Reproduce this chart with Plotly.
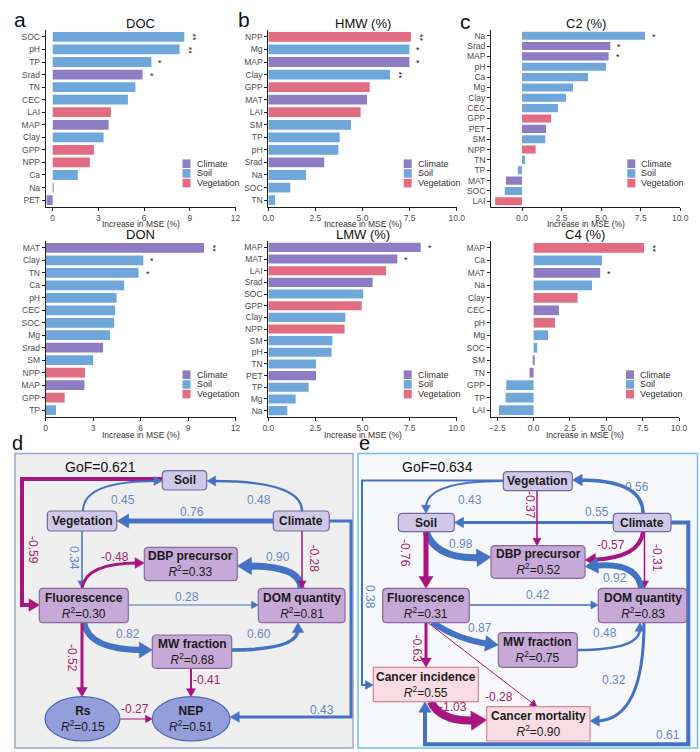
import math
import plotly.graph_objects as go

W, H = 700, 752
FONT = "Liberation Sans, Arial, sans-serif"

# ------------------------------------------------------------------ data
doc_vars = ["SOC", "pH", "TP", "Srad", "TN", "CEC", "LAI", "MAP", "Clay", "GPP", "NPP", "Ca", "Na", "PET"]
doc_vals = [8.64, 8.33, 6.48, 5.90, 5.43, 4.94, 3.82, 3.67, 3.34, 2.70, 2.44, 1.65, 0.05, -0.40]
doc_grp = ["Soil", "Soil", "Soil", "Climate", "Soil", "Soil", "Vegetation", "Climate", "Soil",
           "Vegetation", "Vegetation", "Soil", "Climate", "Climate"]
doc_sig = ["**", "**", "*", "*", "", "", "", "", "", "", "", "", "", ""]

hmw_vars = ["NPP", "Mg", "MAP", "Clay", "GPP", "MAT", "LAI", "SM", "TP", "pH", "Srad", "Na", "SOC", "TN"]
hmw_vals = [7.57, 7.49, 7.49, 6.46, 5.38, 5.24, 4.90, 4.39, 3.79, 3.72, 2.97, 2.00, 1.17, 0.36]
hmw_grp = ["Vegetation", "Soil", "Climate", "Soil", "Vegetation", "Climate", "Vegetation", "Soil",
           "Soil", "Soil", "Climate", "Soil", "Soil", "Soil"]
hmw_sig = ["**", "*", "*", "**", "", "", "", "", "", "", "", "", "", ""]

c2_vars = ["Na", "Srad", "MAP", "pH", "Ca", "Mg", "Clay", "CEC", "GPP", "PET", "SM", "NPP", "TN", "TP",
           "MAT", "SOC", "LAI"]
c2_vals = [7.77, 5.58, 5.47, 5.30, 4.17, 3.22, 2.78, 2.27, 1.83, 1.52, 1.47, 0.86, 0.19, -0.27,
           -1.01, -1.09, -1.70]
c2_grp = ["Soil", "Climate", "Climate", "Soil", "Soil", "Soil", "Soil", "Soil", "Vegetation", "Climate",
          "Soil", "Vegetation", "Soil", "Soil", "Climate", "Soil", "Vegetation"]
c2_sig = ["*", "*", "*", "", "", "", "", "", "", "", "", "", "", "", "", "", ""]

don_vars = ["MAT", "Clay", "TN", "Ca", "pH", "CEC", "SOC", "Mg", "Srad", "SM", "NPP", "MAP", "GPP", "TP"]
don_vals = [10.01, 6.17, 5.87, 4.96, 4.48, 4.39, 4.33, 4.07, 3.63, 3.00, 2.49, 2.45, 1.20, 0.65]
don_grp = ["Climate", "Soil", "Soil", "Soil", "Soil", "Soil", "Soil", "Soil", "Climate", "Soil",
           "Vegetation", "Climate", "Vegetation", "Soil"]
don_sig = ["**", "*", "*", "", "", "", "", "", "", "", "", "", "", ""]

lmw_vars = ["MAP", "MAT", "LAI", "Srad", "SOC", "GPP", "Clay", "NPP", "SM", "pH", "TN", "PET", "TP", "Mg", "Na"]
lmw_vals = [8.09, 6.85, 6.25, 5.54, 5.04, 4.96, 4.09, 4.05, 3.40, 3.36, 2.53, 2.53, 2.14, 1.45, 1.01]
lmw_grp = ["Climate", "Climate", "Vegetation", "Climate", "Soil", "Vegetation", "Soil", "Vegetation",
           "Soil", "Soil", "Soil", "Climate", "Soil", "Soil", "Soil"]
lmw_sig = ["*", "*", "", "", "", "", "", "", "", "", "", "", "", "", ""]

c4_vars = ["MAP", "Ca", "MAT", "Na", "Clay", "CEC", "pH", "Mg", "SOC", "SM", "TN", "GPP", "TP", "LAI"]
c4_vals = [7.59, 4.70, 4.58, 4.02, 3.02, 1.74, 1.47, 0.99, 0.25, 0.03, -0.28, -1.88, -1.93, -2.39]
c4_grp = ["Vegetation", "Soil", "Climate", "Soil", "Vegetation", "Climate", "Vegetation", "Soil",
          "Soil", "Climate", "Climate", "Soil", "Soil", "Soil"]
c4_sig = ["**", "", "*", "", "", "", "", "", "", "", "", "", "", ""]

panel_titles = ["DOC", "HMW (%)", "C2 (%)", "DON", "LMW (%)", "C4 (%)"]
panel_letters = ["a", "b", "c"]
legend_groups = ["Climate", "Soil", "Vegetation"]
x_title = "Increase in MSE (%)"

# path models
d_nodes = ["Soil", "Vegetation", "Climate", "DBP precursor", "Fluorescence", "DOM quantity",
           "MW fraction", "Rs", "NEP"]
d_r2 = [None, None, None, 0.33, 0.30, 0.81, 0.68, 0.15, 0.51]
d_from = ["Soil", "Vegetation", "Climate", "Climate", "Vegetation", "Fluorescence", "DOM quantity",
          "Climate", "Fluorescence", "Fluorescence", "MW fraction", "Fluorescence", "MW fraction", "Rs", "Climate"]
d_to = ["Fluorescence", "Soil", "Soil", "Vegetation", "Fluorescence", "DBP precursor", "DBP precursor",
        "DOM quantity", "DOM quantity", "MW fraction", "DOM quantity", "Rs", "NEP", "NEP", "NEP"]
d_coef = [-0.59, 0.45, 0.48, 0.76, 0.34, -0.48, 0.90, -0.28, 0.28, 0.82, 0.60, -0.52, -0.41, -0.27, 0.43]
d_gof = 0.621

e_nodes = ["Vegetation", "Soil", "Climate", "DBP precursor", "Fluorescence", "DOM quantity",
           "MW fraction", "Cancer incidence", "Cancer mortality"]
e_r2 = [None, None, None, 0.52, 0.31, 0.83, 0.75, 0.55, 0.90]
e_from = ["Vegetation", "Climate", "Climate", "Vegetation", "Vegetation", "Soil", "Soil", "Climate", "Climate",
          "DOM quantity", "Fluorescence", "Fluorescence", "MW fraction", "Fluorescence", "Fluorescence",
          "Cancer incidence", "DOM quantity", "Climate"]
e_to = ["Soil", "Vegetation", "Soil", "DBP precursor", "Cancer incidence", "DBP precursor", "Fluorescence",
        "DBP precursor", "DOM quantity", "DBP precursor", "DOM quantity", "MW fraction", "DOM quantity",
        "Cancer incidence", "Cancer mortality", "Cancer mortality", "Cancer mortality", "Cancer incidence"]
e_coef = [0.43, 0.56, 0.55, -0.37, 0.38, 0.98, -0.76, -0.57, -0.31, 0.92, 0.42, 0.87, 0.48, -0.63,
          -0.28, -1.03, 0.32, 0.61]
e_gof = 0.634

# ------------------------------------------------------------------ styles
GROUP_COL = {"Climate": "#8F7DC4", "Soil": "#70A7DB", "Vegetation": "#E26D82"}
TXT = "#4D4D4D"
BLUE = "#4472C4"
MAG = "#A8157F"
BLUE_T = "#6688C8"
MAG_T = "#A3236F"


def pxx(x):
    return x / W


def pxy(y):
    return 1 - y / H


def pt(x, y):
    return f"{x / W:.5f},{1 - y / H:.5f}"


def label(x, y, text, size, color, xanchor="center", angle=0):
    return dict(x=pxx(x), y=pxy(y), xref="paper", yref="paper", text=text, showarrow=False,
                xanchor=xanchor, yanchor="middle", textangle=angle,
                font=dict(size=size, color=color, family=FONT))


bar_panels = [
    (doc_vars, doc_vals, doc_grp, doc_sig),
    (hmw_vars, hmw_vals, hmw_grp, hmw_sig),
    (c2_vars, c2_vals, c2_grp, c2_sig),
    (don_vars, don_vals, don_grp, don_sig),
    (lmw_vars, lmw_vals, lmw_grp, lmw_sig),
    (c4_vars, c4_vals, c4_grp, c4_sig),
]
panel_geom = [
    dict(xd=(45.7, 235.5), yd=(30, 207), xr=(-0.46, 12), tv=[0, 3, 6, 9, 12], tf=".0f"),
    dict(xd=(268.3, 456.7), yd=(30, 207), xr=(0, 10), tv=[0, 2.5, 5, 7.5, 10], tf=".1f"),
    dict(xd=(491.0, 680.3), yd=(30, 207), xr=(-1.96, 10), tv=[0, 2.5, 5, 7.5, 10], tf=".1f"),
    dict(xd=(45.7, 235.5), yd=(241, 417), xr=(0, 12), tv=[0, 3, 6, 9, 12], tf=".0f"),
    dict(xd=(268.3, 456.7), yd=(241, 417), xr=(0, 10), tv=[0, 2.5, 5, 7.5, 10], tf=".1f"),
    dict(xd=(490.7, 679.0), yd=(241, 417), xr=(-2.95, 10), tv=[-2.5, 0, 2.5, 5, 7.5, 10], tf=".1f"),
]

fig = go.Figure()
shapes = []
ann = []
layout = dict(
    width=W, height=H, margin=dict(l=0, r=0, t=0, b=0, autoexpand=False),
    paper_bgcolor="white", plot_bgcolor="white", showlegend=False,
    font=dict(family=FONT, color=TXT),
)

for i, ((vars_, vals, grp, sig), g) in enumerate(zip(bar_panels, panel_geom)):
    k = "" if i == 0 else str(i + 1)
    xa, ya = "x" + k, "y" + k
    n = len(vars_)
    fig.add_trace(go.Bar(
        x=vals, y=vars_, orientation="h", xaxis=xa, yaxis=ya,
        marker=dict(color=[GROUP_COL[c] for c in grp], line=dict(width=0)),
        width=0.78, hoverinfo="x+y",
    ))
    layout["xaxis" + k] = dict(
        domain=[pxx(g["xd"][0]), pxx(g["xd"][1])], range=list(g["xr"]), anchor=ya,
        tickvals=g["tv"], tickformat=g["tf"], showgrid=False, zeroline=False,
        showline=True, linecolor="#222", linewidth=1, ticks="outside", ticklen=3,
        tickcolor="#222", tickfont=dict(size=8.5, color=TXT, family=FONT), automargin=False,
    )
    layout["yaxis" + k] = dict(
        domain=[pxy(g["yd"][1]), pxy(g["yd"][0])], anchor=xa, type="category",
        categoryorder="array", categoryarray=vars_, range=[n - 0.45, -0.55],
        showgrid=False, zeroline=False, showline=True, linecolor="#222", linewidth=1,
        ticks="outside", ticklen=3, tickcolor="#222", automargin=False,
        tickfont=dict(size=8.5, color=TXT, family=FONT),
    )
    # significance marks
    for v, val, s in zip(vars_, vals, sig):
        if s:
            ann.append(dict(x=val, y=v, xref=xa, yref=ya, text=s, showarrow=False,
                            xanchor="center", yanchor="middle",
                            xshift=9, yshift=-1, textangle=90 if len(s) == 2 else 0,
                            font=dict(size=9, color="#222", family=FONT)))
    cx = (g["xd"][0] + g["xd"][1]) / 2
    ann.append(label(cx, g["yd"][0] - 7, panel_titles[i], 13, "#111"))
    ann.append(label(cx, g["yd"][1] + 17.5, x_title, 8.5, "#333"))
    # legend
    lx = g["xd"][1] - 53
    for j, gname in enumerate(legend_groups):
        cy = g["yd"][0] + 133.7 + 9.7 * j
        shapes.append(dict(type="rect", xref="paper", yref="paper",
                           x0=pxx(lx), x1=pxx(lx + 8), y0=pxy(cy + 4.3), y1=pxy(cy - 4.3),
                           fillcolor=GROUP_COL[gname], line=dict(width=0)))
        ann.append(label(lx + 12, cy, gname, 9, "#333", xanchor="left"))

for letter, (lx, ly) in zip(panel_letters, [(20, 20), (244, 20), (465, 21)]):
    ann.append(label(lx, ly, letter, 21, "#111"))
for letter, (lx, ly) in zip(["d", "e"], [(17, 443), (364, 443)]):
    ann.append(label(lx, ly, letter, 20, "#111"))

# ------------------------------------------------------------------ path diagrams
shapes.append(dict(type="rect", xref="paper", yref="paper", x0=pxx(15), x1=pxx(353), y0=pxy(748),
                   y1=pxy(453.5), fillcolor="#EFEFEF", line=dict(color="#9DA6D8", width=1.5)))
shapes.append(dict(type="rect", xref="paper", yref="paper", x0=pxx(358), x1=pxx(697.5), y0=pxy(748),
                   y1=pxy(453.5), fillcolor="#F7F8FB", line=dict(color="#6CC3E6", width=1.5)))

NODE_STYLE = {
    "driver": dict(fill="#CFC8E8", line="#726A9E"),
    "mediator": dict(fill="#C7A9D8", line="#886A9C"),
    "outcome_e": dict(fill="#929FDA", line="#4F63B4"),
    "cancer": dict(fill="#F9DCE4", line="#D9829A"),
}

d_node_geom = {
    "Soil": ((162.3, 470.7, 206.7, 490.0), "driver", "rect"),
    "Vegetation": ((47.3, 511.0, 116.7, 531.0), "driver", "rect"),
    "Climate": ((273.3, 511.0, 329.3, 531.0), "driver", "rect"),
    "DBP precursor": ((144.3, 547.3, 237.3, 580.7), "mediator", "rect"),
    "Fluorescence": ((39.3, 588.3, 128.3, 622.7), "mediator", "rect"),
    "DOM quantity": ((258.3, 588.3, 345.0, 622.7), "mediator", "rect"),
    "MW fraction": ((152.3, 635.0, 231.7, 668.3), "mediator", "rect"),
    "Rs": ((45.0, 696.7, 120.0, 741.0), "outcome_e", "ellipse"),
    "NEP": ((152.3, 696.7, 230.0, 741.0), "outcome_e", "ellipse"),
}
e_node_geom = {
    "Vegetation": ((503.3, 471.7, 572.3, 490.7), "driver", "rect"),
    "Soil": ((398.3, 513.3, 454.3, 531.7), "driver", "rect"),
    "Climate": ((613.3, 513.3, 671.0, 531.7), "driver", "rect"),
    "DBP precursor": ((491.0, 545.7, 585.0, 578.3), "mediator", "rect"),
    "Fluorescence": ((382.7, 588.3, 469.3, 622.7), "mediator", "rect"),
    "DOM quantity": ((598.3, 588.3, 686.7, 622.7), "mediator", "rect"),
    "MW fraction": ((498.3, 632.7, 577.3, 667.3), "mediator", "rect"),
    "Cancer incidence": ((373.3, 667.3, 478.3, 701.7), "cancer", "sharp"),
    "Cancer mortality": ((486.7, 706.7, 590.0, 741.0), "cancer", "sharp"),
}

# edge geometry: kind, points (px), line width, label position, label angle
d_edge_geom = {
    ("Soil", "Fluorescence"): ("L", [(162, 479), (22, 479), (22, 605), (39.5, 605)], 4, (33, 550), 90),
    ("Vegetation", "Soil"): ("Q", [(83, 511), (83, 481), (162, 481)], 2, (123, 500), 0),
    ("Climate", "Soil"): ("Q", [(302, 511), (302, 481), (207, 481)], 2.5, (259, 500), 0),
    ("Climate", "Vegetation"): ("L", [(273, 521), (117, 521)], 5, (192, 511.5), 0),
    ("Vegetation", "Fluorescence"): ("L", [(82, 531), (82, 588.3)], 1.5, (74, 558), 90),
    ("Fluorescence", "DBP precursor"): ("Q", [(82, 588), (86, 563), (144.3, 563)], 3, (115, 557), 0),
    ("DOM quantity", "DBP precursor"): ("Q", [(301, 588), (301, 566), (237.3, 566)], 7, (278, 557), 0),
    ("Climate", "DOM quantity"): ("L", [(302, 531), (302, 588.3)], 1.5, (313.5, 558), 90),
    ("Fluorescence", "DOM quantity"): ("L", [(128.3, 605), (258.3, 605)], 1, (187, 596.5), 0),
    ("Fluorescence", "MW fraction"): ("Q", [(84, 622), (88, 650), (152.3, 650)], 6, (128, 634), 0),
    ("MW fraction", "DOM quantity"): ("Q", [(231.7, 650), (298, 650), (298, 622.7)], 3.5, (259, 634), 0),
    ("Fluorescence", "Rs"): ("L", [(82, 622.7), (82, 696.7)], 3, (72, 658), 90),
    ("MW fraction", "NEP"): ("L", [(191, 668.3), (191, 696.7)], 2, (207, 680), 0),
    ("Rs", "NEP"): ("L", [(120, 719), (152.3, 719)], 1, (135, 709), 0),
    ("Climate", "NEP"): ("L", [(329.3, 521), (351, 521), (351, 717), (230, 717)], 3, (322, 710), 0),
}
e_edge_geom = {
    ("Vegetation", "Soil"): ("Q", [(503.3, 481), (426, 481), (426, 513.3)], 2, (470, 500), 0),
    ("Climate", "Vegetation"): ("Q", [(643, 513.3), (643, 480), (572.3, 480)], 3.5, (637, 487), 0),
    ("Climate", "Soil"): ("L", [(613.3, 522.5), (454.3, 522.5)], 3, (597, 511.5), 0),
    ("Vegetation", "DBP precursor"): ("L", [(537, 490.7), (537, 545.7)], 1.5, (530, 505), 90),
    ("Vegetation", "Cancer incidence"): ("L", [(503.3, 480.5), (362, 480.5), (362, 685), (373.3, 685)], 2,
                                         (370, 597), 90),
    ("Soil", "DBP precursor"): ("Q", [(426, 531.7), (436, 560), (491, 557)], 7, (461, 544), 0),
    ("Soil", "Fluorescence"): ("L", [(426, 531.7), (426, 588.3)], 5, (405, 553), 90),
    ("Climate", "DBP precursor"): ("Q", [(643, 531.7), (640, 558), (585, 560)], 4, (611, 545), 0),
    ("Climate", "DOM quantity"): ("L", [(644.5, 531.7), (644.5, 588.3)], 1.5, (657, 558), 90),
    ("DOM quantity", "DBP precursor"): ("Q", [(641, 588.3), (638, 562), (585, 566.5)], 6, (615, 578), 0),
    ("Fluorescence", "DOM quantity"): ("L", [(469.3, 605), (598.3, 605)], 1.5, (538, 595), 0),
    ("Fluorescence", "MW fraction"): ("Q", [(432, 622), (458, 640), (498.3, 645)], 6, (480, 628), 0),
    ("MW fraction", "DOM quantity"): ("Q", [(577.3, 650), (640, 650), (640, 622.7)], 2.5, (605, 633), 0),
    ("Fluorescence", "Cancer incidence"): ("L", [(426, 622.7), (426, 667.3)], 3, (416.5, 648), 90),
    ("Fluorescence", "Cancer mortality"): ("L", [(428, 622.7), (537, 706.7)], 1, (499, 697), 0),
    ("Cancer incidence", "Cancer mortality"): ("Q", [(431, 701.7), (440, 722), (486.7, 720)], 8,
                                               (453, 707), 0),
    ("DOM quantity", "Cancer mortality"): ("Q", [(644, 622.7), (644, 720), (590, 721)], 3, (614, 680), 0),
    ("Climate", "Cancer incidence"): ("L", [(671, 522.5), (688.3, 522.5), (688.3, 744.3), (425, 744.3),
                                            (425, 701.7)], 4, (668, 735), 0),
}


def add_edge(kind, pts, color, w):
    end, prev = pts[-1], pts[-2]
    dx, dy = end[0] - prev[0], end[1] - prev[1]
    L = math.hypot(dx, dy)
    ux, uy = dx / L, dy / L
    hl = 5.5 + 1.25 * w
    hw = 2.8 + 0.85 * w
    bx, by = end[0] - ux * hl, end[1] - uy * hl
    le = (end[0] - ux * hl * 0.7, end[1] - uy * hl * 0.7)
    p2 = pts[:-1] + [le]
    if kind == "L":
        d = "M " + " L ".join(pt(*p) for p in p2)
    else:
        d = f"M {pt(*p2[0])} Q {pt(*p2[1])} {pt(*p2[2])}"
    shapes.append(dict(type="path", path=d, xref="paper", yref="paper",
                       line=dict(color=color, width=w), fillcolor="rgba(0,0,0,0)"))
    nx, ny = -uy, ux
    tri = f"M {pt(*end)} L {pt(bx + nx * hw, by + ny * hw)} L {pt(bx - nx * hw, by - ny * hw)} Z"
    shapes.append(dict(type="path", path=tri, xref="paper", yref="paper",
                       line=dict(color=color, width=0.5), fillcolor=color))


def rrect_path(x0, y0, x1, y1, r):
    return (f"M {pt(x0 + r, y0)} L {pt(x1 - r, y0)} Q {pt(x1, y0)} {pt(x1, y0 + r)} "
            f"L {pt(x1, y1 - r)} Q {pt(x1, y1)} {pt(x1 - r, y1)} L {pt(x0 + r, y1)} "
            f"Q {pt(x0, y1)} {pt(x0, y1 - r)} L {pt(x0, y0 + r)} Q {pt(x0, y0)} {pt(x0 + r, y0)} Z")


def draw_model(nodes, r2s, e_from_, e_to_, coefs, ngeom, egeom, gof, gof_pos):
    for f, t, c in zip(e_from_, e_to_, coefs):
        kind, pts, w, lpos, ang = egeom[(f, t)]
        col = BLUE if c > 0 else MAG
        add_edge(kind, pts, col, w)
        ann.append(label(lpos[0], lpos[1], f"{c:.2f}", 12, BLUE_T if c > 0 else MAG_T, angle=ang))
    for name, r2 in zip(nodes, r2s):
        (x0, y0, x1, y1), style, shape = ngeom[name]
        st = NODE_STYLE[style]
        if shape == "ellipse":
            shapes.append(dict(type="circle", xref="paper", yref="paper", x0=pxx(x0), x1=pxx(x1),
                               y0=pxy(y1), y1=pxy(y0), fillcolor=st["fill"],
                               line=dict(color=st["line"], width=1.2)))
        else:
            r = 4 if shape == "rect" else 0
            shapes.append(dict(type="path", path=rrect_path(x0, y0, x1, y1, r), xref="paper", yref="paper",
                               fillcolor=st["fill"], line=dict(color=st["line"], width=1.2)))
        txt = f"<b>{name}</b>"
        if r2 is not None:
            txt += f"<br><i>R</i><sup>2</sup>={r2:.2f}"
        ann.append(label((x0 + x1) / 2, (y0 + y1) / 2, txt, 12, "#1A1A1A"))
    ann.append(label(gof_pos[0], gof_pos[1], f"GoF={gof:.3f}", 14, "#111"))


draw_model(d_nodes, d_r2, d_from, d_to, d_coef, d_node_geom, d_edge_geom, d_gof, (100, 467))
draw_model(e_nodes, e_r2, e_from, e_to, e_coef, e_node_geom, e_edge_geom, e_gof, (437, 467))

layout["shapes"] = shapes
layout["annotations"] = ann
fig.update_layout(**layout)
fig.write_html(
    "out.html",
    config={"displayModeBar": False},
    post_script="document.body.style.margin='0px';document.body.style.padding='0px';"
                "document.body.style.overflow='hidden';",
)
